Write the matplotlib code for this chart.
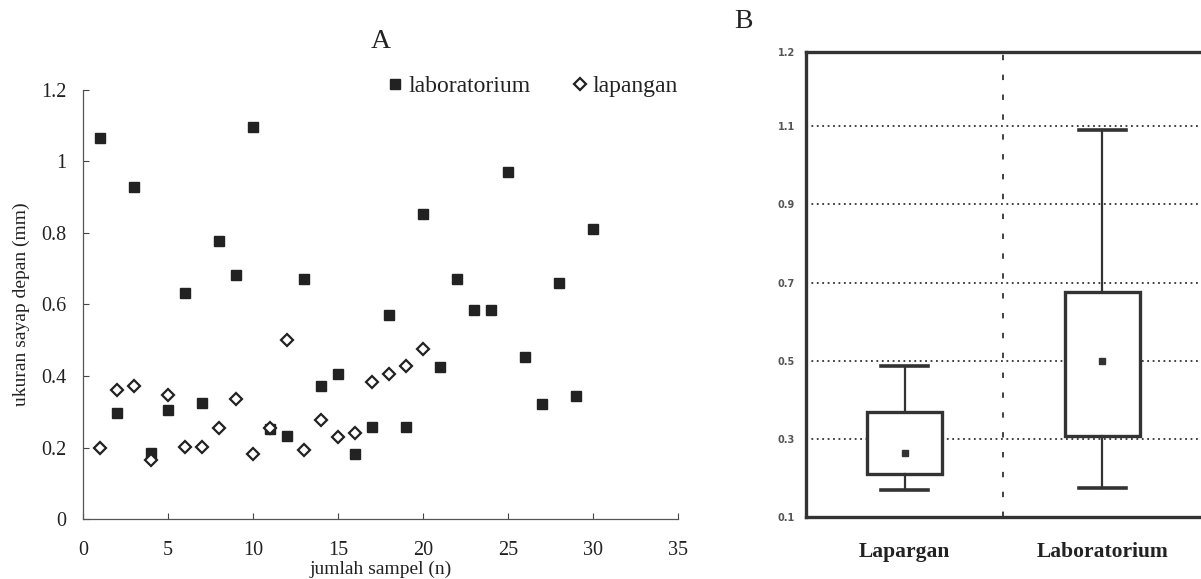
import matplotlib
matplotlib.use('Agg')
import matplotlib.pyplot as plt
import numpy as np

# --- panel A data ---
sampel = list(range(1, 31))
laboratorium = [1.065, 0.296, 0.929, 0.184, 0.304, 0.633, 0.324, 0.777, 0.683, 1.096,
                0.251, 0.231, 0.670, 0.373, 0.405, 0.183, 0.256, 0.571, 0.257, 0.852,
                0.426, 0.672, 0.585, 0.585, 0.971, 0.452, 0.322, 0.661, 0.343, 0.812]
sampel_lap = list(range(1, 21))
lapangan = [0.200, 0.361, 0.373, 0.165, 0.348, 0.202, 0.202, 0.255, 0.335, 0.181,
            0.255, 0.500, 0.193, 0.277, 0.229, 0.241, 0.383, 0.406, 0.427, 0.475]

xticks_a = [0, 5, 10, 15, 20, 25, 30, 35]
yticks_a = [0, 0.2, 0.4, 0.6, 0.8, 1.0, 1.2]
ylabels_a = ['0', '0.2', '0.4', '0.6', '0.8', '1', '1.2']

# --- panel B data (box summary) ---
kategori = ['Lapargan', 'Laboratorium']
whis_lo = [0.168, 0.173]
q1 = [0.211, 0.308]
rata = [0.263, 0.498]
q3 = [0.369, 0.675]
whis_hi = [0.487, 1.090]
yticks_b = [0.1, 0.3, 0.5, 0.7, 0.9, 1.1, 1.29]
ylabels_b = ['0.1', '0.3', '0.5', '0.7', '0.9', '1.1', '1.2']

ink = '#222222'
serif = ['Liberation Serif', 'DejaVu Serif']
plt.rcParams['font.family'] = serif

fig = plt.figure(figsize=(12.01, 5.79), dpi=100)

# ---------------- A ----------------
ax = fig.add_axes([0.0691, 0.1036, 0.4954, 0.741])
ax.plot(sampel, laboratorium, 's', ms=7.5, color=ink, mec=ink, label='laboratorium', zorder=3)
ax.plot(sampel_lap, lapangan, 'D', ms=5.8, mfc='white', mec=ink, mew=1.6, label='lapangan', zorder=4)
ax.set_xlim(0, 35)
ax.set_ylim(0, 1.2)
ax.set_xticks(xticks_a)
ax.set_yticks(yticks_a)
ax.set_yticklabels(ylabels_a)
ax.tick_params(direction='in', length=4, width=0.8, colors='#444', labelcolor=ink, labelsize=14.5)
ax.tick_params(axis='x', pad=16)
ax.tick_params(axis='y', pad=12)
for s in ['top', 'right']:
    ax.spines[s].set_visible(False)
for s in ['left', 'bottom']:
    ax.spines[s].set_color('#555')
    ax.spines[s].set_linewidth(0.9)
ax.set_xlabel('jumlah sampel (n)', fontsize=14, color=ink, labelpad=0)
ax.set_ylabel('ukuran sayap depan (mm)', fontsize=14, color=ink, labelpad=8)
ax.set_title('A', fontsize=20, color=ink, pad=30)
ax.legend(loc='center right', bbox_to_anchor=(1.0, 1.008), ncol=2, frameon=False,
          fontsize=17, handletextpad=0.05, columnspacing=1.6, handlelength=1.0,
          borderaxespad=0, borderpad=0, labelcolor=ink)

# ---------------- B ----------------
bx = fig.add_axes([0.6711, 0.1071, 0.3289, 0.8031])
stats = []
for i in range(len(kategori)):
    stats.append(dict(label=kategori[i], whislo=whis_lo[i], q1=q1[i], med=rata[i],
                      q3=q3[i], whishi=whis_hi[i], mean=rata[i], fliers=[]))
line = '#333333'
bx.bxp(stats, positions=[1, 2], widths=0.38, capwidths=0.24, patch_artist=True,
       showmeans=True, showfliers=False,
       boxprops=dict(facecolor='white', edgecolor=line, linewidth=2.4),
       whiskerprops=dict(color=line, linewidth=1.6),
       capprops=dict(color=line, linewidth=2.6),
       medianprops=dict(linewidth=0),
       meanprops=dict(marker='s', markersize=4, markerfacecolor=line, markeredgecolor=line))
bx.set_xlim(0.5, 2.5)
bx.set_ylim(0.1, 1.29)
bx.set_yticks(yticks_b)
bx.set_yticklabels(ylabels_b, family=['DejaVu Sans'], fontweight='bold')
bx.set_xticks([1.5], minor=True)
bx.tick_params(axis='y', length=0, labelsize=7, labelcolor='#555', pad=8)
bx.tick_params(axis='x', which='both', length=0, labelsize=15.5, labelcolor=ink, pad=18)
for t in bx.get_xticklabels():
    t.set_fontweight('bold')
bx.set_axisbelow(True)
bx.yaxis.grid(True, color='#333', linewidth=1.3, linestyle=(0, (1, 2)))
bx.xaxis.grid(True, which='minor', color='#333', linewidth=1.3, linestyle=(0, (3, 8)))
bx.xaxis.grid(False, which='major')
bx.spines['right'].set_visible(False)
for s in ['left', 'top', 'bottom']:
    bx.spines[s].set_linewidth(2.4)
    bx.spines[s].set_color(line)

fig.text(743 / 1201, 1 - 22 / 579, 'B', fontsize=20, color=ink, ha='center', va='center')

fig.savefig('out.png', dpi=100)
